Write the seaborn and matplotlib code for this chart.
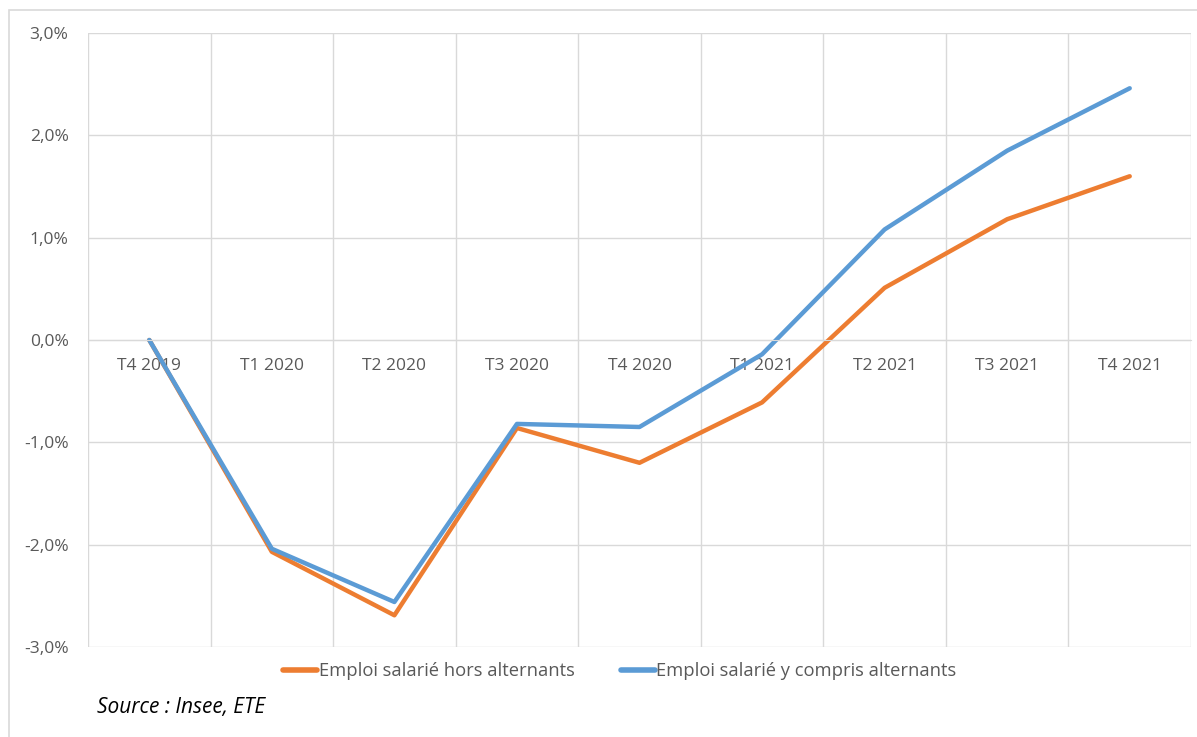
import pandas as pd
import matplotlib.pyplot as plt
import seaborn as sns
from matplotlib.ticker import FuncFormatter, FixedLocator
from matplotlib.patches import Rectangle

# données (évolution cumulée depuis T4 2019, en %)
trimestres = ['T4 2019', 'T1 2020', 'T2 2020', 'T3 2020', 'T4 2020',
              'T1 2021', 'T2 2021', 'T3 2021', 'T4 2021']
hors_alternants = [0.0, -2.07, -2.69, -0.86, -1.20, -0.61, 0.51, 1.18, 1.60]
avec_alternants = [0.0, -2.04, -2.56, -0.82, -0.85, -0.14, 1.08, 1.85, 2.46]
serie_hors = 'Emploi salarié hors alternants'
serie_avec = 'Emploi salarié y compris alternants'

df = pd.DataFrame({
    'trimestre': trimestres * 2,
    'valeur': hors_alternants + avec_alternants,
    'serie': [serie_hors] * len(trimestres) + [serie_avec] * len(trimestres),
})

sns.set_style('white')
plt.rcParams['font.family'] = ['Open Sans', 'DejaVu Sans']
gris = '#595959'

fig = plt.figure(figsize=(11.97, 7.37), dpi=100)
ax = fig.add_axes([88/1197, 1-647/737, (1191-88)/1197, (647-33)/737])

sns.lineplot(data=df, x='trimestre', y='valeur', hue='serie', ax=ax,
             palette={serie_hors: '#ED7D31', serie_avec: '#5B9BD5'},
             linewidth=3.2, sort=False, legend=True)

ax.set_xlim(-0.5, len(trimestres) - 0.5)
ax.set_ylim(-3, 3)
ax.set_xlabel('')
ax.set_ylabel('')

# grille verticale entre les catégories (comme Excel)
ax.xaxis.set_minor_locator(FixedLocator([i - 0.5 for i in range(len(trimestres) + 1)]))
ax.grid(which='minor', axis='x', color='#D9D9D9', lw=1)
ax.grid(which='major', axis='y', color='#D9D9D9', lw=1)
ax.set_axisbelow(True)
ax.set_yticks([-3, -2, -1, 0, 1, 2, 3])
ax.yaxis.set_major_formatter(FuncFormatter(lambda v, p: f'{v:.1f}%'.replace('.', ',')))

for s in ['top', 'right', 'left']:
    ax.spines[s].set_visible(False)
ax.spines['bottom'].set_position(('data', 0))
ax.spines['bottom'].set_color('#D9D9D9')
ax.tick_params(axis='x', which='both', length=0, pad=13, labelsize=12.5, labelcolor=gris)
ax.tick_params(axis='y', length=0, pad=14, labelsize=12.5, labelcolor=gris)

h, l = ax.get_legend_handles_labels()
ax.get_legend().remove()
for hh in h:
    hh.set_linewidth(4)
fig.legend(h, l, loc='center', bbox_to_anchor=(620/1197, 1-671/737), ncol=2,
           frameon=False, handlelength=1.85, handletextpad=0.1, columnspacing=2.5,
           prop={'size': 13.2}, labelcolor=gris)

fig.text(97/1197, 1-708/737, 'Source : Insee, ETE', style='italic', fontsize=15,
         color='black', va='center', ha='left')

# cadre du graphique
fig.patches.append(Rectangle((9/1197, -0.05), 1.2, 1-10/737+0.05,
                             transform=fig.transFigure, fill=False,
                             edgecolor='#D9D9D9', lw=1.2))

fig.savefig('out.png', dpi=100)
